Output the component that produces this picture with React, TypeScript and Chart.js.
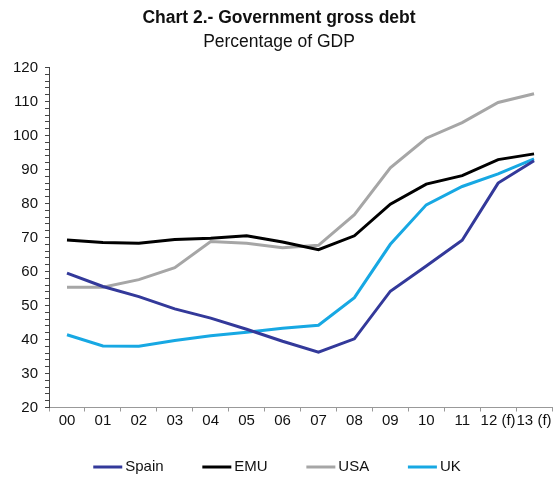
import React, { useEffect, useRef } from "react";
import { Chart, registerables } from "chart.js";

Chart.register(...registerables);

const categories = ["00", "01", "02", "03", "04", "05", "06", "07", "08", "09", "10", "11", "12 (f)", "13 (f)"];
const spain = [59.5, 55.6, 52.6, 49.0, 46.3, 43.0, 39.5, 36.3, 40.2, 54.2, 61.6, 69.2, 86.0, 92.6];
const emu = [69.3, 68.5, 68.3, 69.4, 69.8, 70.5, 68.7, 66.4, 70.5, 79.8, 85.7, 88.2, 92.9, 94.6];
const usa = [55.4, 55.4, 57.6, 61.1, 68.8, 68.3, 67.0, 67.7, 76.7, 90.5, 99.2, 103.8, 109.7, 112.3];
const uk = [41.4, 38.1, 38.0, 39.7, 41.1, 42.1, 43.3, 44.2, 52.3, 68.0, 79.6, 85.0, 88.7, 93.1];
const seriesNames = ["Spain", "EMU", "USA", "UK"];
const seriesColors = ["#33399a", "#000000", "#a6a6a6", "#17a8e3"];
const titleText = "Chart 2.- Government gross debt";
const subtitleText = "Percentage of GDP";
const yMin = 20;
const yMax = 120;

const FONT = "'Liberation Sans', Arial, sans-serif";

// Legend drawn below the axis (one row, centered)
const legendPlugin = {
  id: "rowLegend",
  afterDraw(chart: any) {
    const ctx = chart.ctx as CanvasRenderingContext2D;
    const lineLen = 29;
    const textGap = 3;
    const itemGap = 38.7;
    const yCenter = chart.height - 14;
    ctx.save();
    ctx.font = `15px ${FONT}`;
    ctx.textBaseline = "middle";
    ctx.textAlign = "left";
    const items = chart.data.datasets.map((d: any) => ({
      label: String(d.label),
      color: String(d.borderColor),
      w: lineLen + textGap + ctx.measureText(String(d.label)).width,
    }));
    const total = items.reduce((s: number, it: any) => s + it.w, 0) + itemGap * (items.length - 1);
    let x = (chart.width - total) / 2;
    for (const it of items) {
      ctx.strokeStyle = it.color;
      ctx.lineWidth = 3;
      ctx.lineCap = "butt";
      ctx.beginPath();
      ctx.moveTo(x, yCenter);
      ctx.lineTo(x + lineLen, yCenter);
      ctx.stroke();
      ctx.fillStyle = "#111";
      ctx.fillText(it.label, x + lineLen + textGap, yCenter);
      x += it.w + itemGap;
    }
    ctx.restore();
  },
};

export default function App() {
  const ref = useRef<HTMLCanvasElement | null>(null);
  useEffect(() => {
    if (!ref.current) return;
    const values = [spain, emu, usa, uk];
    const chart = new Chart(ref.current, {
      type: "line",
      data: {
        labels: categories,
        datasets: values.map((v, i) => ({
          label: seriesNames[i],
          data: v,
          borderColor: seriesColors[i],
          backgroundColor: seriesColors[i],
          borderWidth: 3,
          pointRadius: 0,
          tension: 0,
          fill: false,
        })),
      },
      plugins: [legendPlugin],
      options: {
        animation: false,
        responsive: false,
        maintainAspectRatio: false,
        layout: { padding: { left: 6, right: 2, top: 0, bottom: 51.5 } },
        plugins: {
          title: {
            display: true,
            text: titleText,
            color: "#111",
            font: { family: FONT, size: 17.5, weight: "bold" },
            padding: { top: 7.5, bottom: 2 },
          },
          subtitle: {
            display: true,
            text: subtitleText,
            color: "#111",
            font: { family: FONT, size: 17.5 },
            padding: { top: 1, bottom: 15 },
          },
          legend: { display: false },
          tooltip: { enabled: false },
        },
        scales: {
          x: {
            offset: true,
            grid: {
              display: true,
              offset: true,
              drawOnChartArea: false,
              drawTicks: true,
              tickLength: 4,
              color: "#999",
            },
            border: { display: true, color: "#999", width: 1 },
            ticks: {
              autoSkip: false,
              maxRotation: 0,
              minRotation: 0,
              padding: 0,
              color: "#111",
              font: { family: FONT, size: 15 },
            },
          },
          y: {
            min: yMin,
            max: yMax,
            grid: {
              display: true,
              drawOnChartArea: false,
              drawTicks: true,
              tickLength: 4,
              color: "#444",
            },
            border: { display: true, color: "#444", width: 1 },
            ticks: {
              stepSize: 2,
              autoSkip: false,
              padding: 7,
              color: "#111",
              font: { family: FONT, size: 15 },
              callback: (v: any) => (Number(v) % 10 === 0 ? String(v) : ""),
            },
          },
        },
      },
    });
    return () => chart.destroy();
  }, []);
  return (
    <div style={{ position: "absolute", left: 0, top: 0, width: 554, height: 481, background: "#fff" }}>
      <canvas ref={ref} width={554} height={481} style={{ width: 554, height: 481 }} />
    </div>
  );
}
